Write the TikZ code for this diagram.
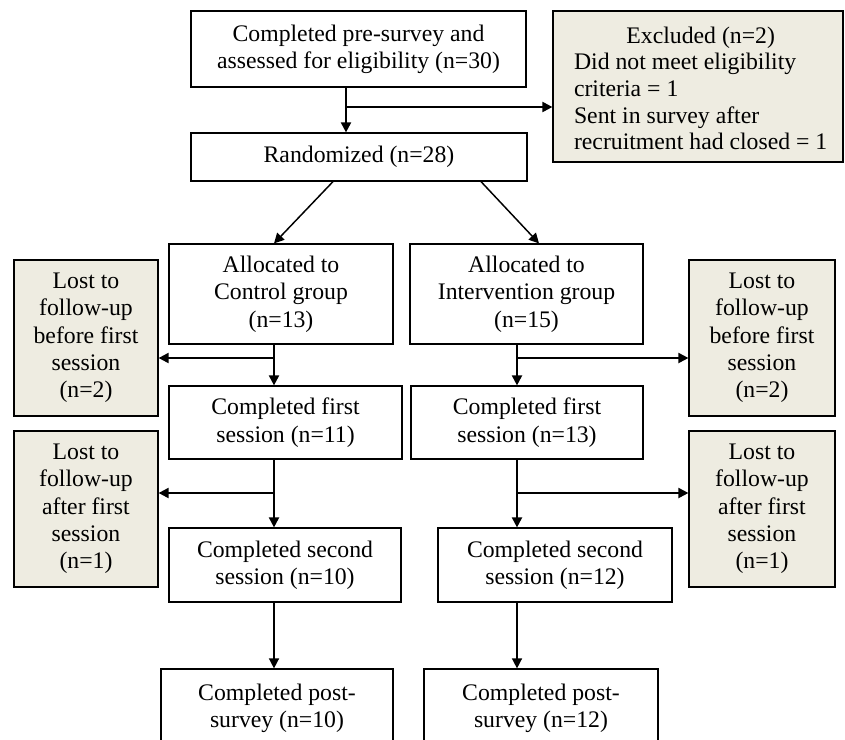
\documentclass[tikz,border=0pt]{standalone}
\usepackage{fontspec}
\setmainfont{Liberation Serif}
\usetikzlibrary{arrows.meta}
\definecolor{lostfill}{HTML}{EEECE1}
\tikzset{
  box/.style={draw=black, line width=0.9pt, fill=white, inner sep=0pt, align=center,
    font=\fontsize{17.8pt}{20.5pt}\selectfont},
  lost/.style={box, fill=lostfill},
  arr/.style={line width=1.5pt, -{Triangle[length=7.5pt,width=7.5pt]}},
  arrthin/.style={line width=1.1pt, -{Triangle[length=7.5pt,width=7.5pt]}}
}
\begin{document}
\begin{tikzpicture}[x=0.75pt,y=-0.75pt]
\useasboundingbox (0,0) rectangle (845,739);
\clip (0,0) rectangle (845,739);
\fill[white] (0,0) rectangle (845,739);

% main column boxes
\node[box, minimum width=251.25pt, minimum height=57pt] (top) at (358.5,49)
  {Completed pre-survey and\\assessed for eligibility (n=30)};
\node[draw=black, line width=0.9pt, fill=lostfill, inner sep=0pt, minimum width=217.5pt,
  minimum height=113.25pt, font=\fontsize{17.8pt}{19.9pt}\selectfont] (excl) at (698,86.5)
  {\raisebox{-3.5pt}[\height][\depth]{\hspace*{4pt}\begin{tabular}{@{}l@{}}\multicolumn{1}{@{}c@{}}{Excluded (n=2)}\\Did not meet eligibility\\criteria = 1\\Sent in survey after\\recruitment had closed = 1\end{tabular}}};
\node[box, minimum width=252pt, minimum height=36pt] (rand) at (359,157) {Randomized (n=28)};

\node[box, minimum width=168pt, minimum height=75pt] (ac) at (281,294)
  {Allocated to\\Control group\\(n=13)};
\node[box, minimum width=174.75pt, minimum height=75pt] (ai) at (526.5,294)
  {Allocated to\\Intervention group\\(n=15)};

\node[lost, minimum width=108pt, minimum height=117pt] (lb1) at (86,338)
  {Lost to\\follow-up\\before first\\session\\(n=2)};
\node[lost, minimum width=109.5pt, minimum height=117pt] (rb1) at (762,338)
  {Lost to\\follow-up\\before first\\session\\(n=2)};

\node[box, minimum width=174.75pt, minimum height=54.75pt] (fc) at (285.5,422.5)
  {Completed first\\session (n=11)};
\node[box, minimum width=174pt, minimum height=54.75pt] (fi) at (527,422.5)
  {Completed first\\session (n=13)};

\node[lost, minimum width=108pt, minimum height=117pt] (lb2) at (86,509)
  {Lost to\\follow-up\\after first\\session\\(n=1)};
\node[lost, minimum width=109.5pt, minimum height=117pt] (rb2) at (762,509)
  {Lost to\\follow-up\\after first\\session\\(n=1)};

\node[box, minimum width=174pt, minimum height=55.5pt] (sc) at (285,565)
  {Completed second\\session (n=10)};
\node[box, minimum width=175.5pt, minimum height=55.5pt] (si) at (555,565)
  {Completed second\\session (n=12)};

\node[box, minimum width=174pt, minimum height=58.5pt] (pc) at (277,708)
  {Completed post-\\survey (n=10)};
\node[box, minimum width=175.5pt, minimum height=58.5pt] (pi) at (541,708)
  {Completed post-\\survey (n=12)};

% connector coordinates
\coordinate (v0) at (346,107);
\coordinate (dl1) at (333,181);
\coordinate (dl2) at (274,244);
\coordinate (dr1) at (481,181);
\coordinate (dr2) at (539,244);
\coordinate (cl) at (274,358);
\coordinate (cl2) at (274,493);
\coordinate (cr) at (517,358);
\coordinate (cr2) at (517,493);

% connectors
\draw[arr] (top.south -| v0) -- (rand.north -| v0);
\draw[arr] (v0) -- (excl.west |- v0);

\draw[arrthin] (rand.south -| dl1) -- (ac.north -| dl2);
\draw[arrthin] (rand.south -| dr1) -- (ai.north -| dr2);

\draw[arr] (ac.south -| cl) -- (fc.north -| cl);
\draw[arr] (cl) -- (lb1.east |- cl);
\draw[arr] (ai.south -| cr) -- (fi.north -| cr);
\draw[arr] (cr) -- (rb1.west |- cr);

\draw[arr] (fc.south -| cl2) -- (sc.north -| cl2);
\draw[arr] (cl2) -- (lb2.east |- cl2);
\draw[arr] (fi.south -| cr2) -- (si.north -| cr2);
\draw[arr] (cr2) -- (rb2.west |- cr2);

\draw[arrthin] (sc.south -| cl) -- (pc.north -| cl);
\draw[arrthin] (si.south -| cr) -- (pi.north -| cr);
\end{tikzpicture}
\end{document}
